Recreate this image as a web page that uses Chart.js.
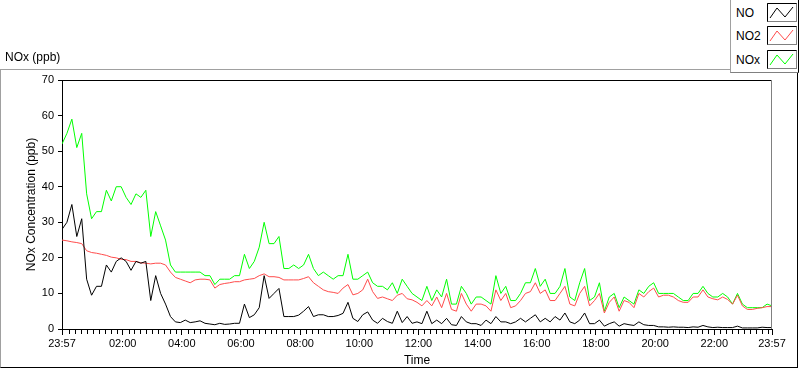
<!DOCTYPE html>
<html>
<head>
<meta charset="utf-8">
<title>NOx (ppb)</title>
<script src="https://cdn.jsdelivr.net/npm/chart.js@4.4.0/dist/chart.umd.min.js"></script>
<style>
    html, body { margin: 0; padding: 0; background: #fff; }
    body { position: relative; width: 800px; height: 369px; overflow: hidden; font-family: "Liberation Sans", Arial, sans-serif; color: #000; }
    #frame { position: absolute; left: 0; top: 69px; width: 798px; height: 299px; box-sizing: border-box;
        border-left: 1px solid #a0a0a0; border-top: 1px solid #a0a0a0; border-right: 1px solid #000; border-bottom: 1px solid #000; }
    #chart { position: absolute; left: 0; top: 0; }
    #graphTitle { position: absolute; left: 5px; top: 50px; font-size: 12px; }
    #legend { position: absolute; left: 730px; top: -1px; width: 69px; height: 74px; box-sizing: border-box; background: #fff;
        border-left: 1px solid #a0a0a0; border-top: 1px solid #a0a0a0; border-right: 1px solid #000; border-bottom: 1px solid #808080; }
    .row { position: absolute; left: 5px; width: 62px; height: 20px; font-size: 12px; }
    .row span { position: absolute; left: 0; top: 3px; }
    .row svg { position: absolute; left: 31px; top: 0; }
</style>
</head>
<body>
<div id="frame"></div>
<canvas id="chart" width="800" height="369"></canvas>
<div id="graphTitle">NOx (ppb)</div>
<div id="legend"></div>
<script>
// minutes after 23:57, one sample every 10 minutes
var SAMPLE_STEP = 10;

var seriesNames = ['NO', 'NO2', 'NOx'];
var seriesColors = ['#000000', '#ff4b4b', '#00ff00'];

var noValues = [
    28, 30, 35, 26, 31, 14, 9.5, 12, 12, 18, 16, 19,
    20, 19, 16.5, 19, 18.5, 19, 8, 15, 10, 7, 3.5, 2,
    1.8, 2.5, 1.8, 2, 2.3, 1.6, 1.4, 1.2, 1.6, 1.3, 1.4, 1.6,
    1.6, 7, 3.2, 4, 6, 15, 8.6, 10, 11.4, 3.5, 3.5, 3.5,
    3.9, 5, 6.3, 3.5, 4, 4, 3.5, 3.5, 3.8, 4.4, 7.5, 3,
    2.1, 4, 4.8, 2.5, 1.6, 3, 2.1, 1.6, 5, 1.8, 3.5, 1.6,
    2, 1.5, 5, 1.5, 2.5, 1.5, 3, 1.2, 1, 3.5, 2, 1.5,
    1.5, 1, 2.5, 1.5, 3.5, 2, 2, 1.5, 2, 3, 2, 3,
    4, 2, 3, 2, 3.5, 2.5, 4.5, 2, 1.5, 2.5, 4.5, 1.5,
    1.5, 2.5, 0.8, 1.5, 2, 0.8, 1.5, 1.2, 1, 2, 1.2, 1,
    1, 0.6, 0.6, 0.5, 0.6, 0.5, 0.5, 0.4, 0.6, 0.5, 1, 0.6,
    0.4, 0.5, 0.4, 0.4, 0.4, 0.8, 0.3, 0.3, 0.3, 0.3, 0.5, 0.4,
    0.4
];

var no2Values = [
    25, 24.8, 24.5, 24.3, 24, 22, 21.5, 21.3, 21, 20.7, 20.2, 20,
    19.6, 19.5, 19, 19, 18.6, 18.5, 18.3, 18.5, 18.5, 18, 16, 14.5,
    14, 13.5, 13, 13.8, 14, 14, 13.8, 11.5, 12.5, 12.8, 13, 13.3,
    13.3, 13.8, 14, 14.2, 15, 15.5, 14.7, 14.7, 14.5, 13.8, 13.8, 13.8,
    13.8, 14.2, 14.7, 13, 12, 11, 10.5, 10.3, 10, 11.5, 12.5, 9.6,
    10, 11, 14, 10.5, 8.6, 9, 8.5, 8, 9.5, 10, 8.5, 8.2,
    7.5, 6.5, 8, 6.5, 9, 6, 10, 5.5, 5, 10, 7, 5,
    7, 7, 6.5, 5, 11, 8, 10, 6, 6.5, 8, 10, 10.5,
    13, 10, 11, 8, 8, 10, 12, 7, 6.5, 10, 12, 6.5,
    8, 10, 4.5, 7.5, 9, 5, 8, 7.5, 6, 10, 9, 10.5,
    11.5, 9, 9.5, 9.5, 9, 8, 7.5, 7.5, 9, 9, 11, 9,
    8.5, 8.2, 9, 8.3, 7, 9.5, 6.5, 5.5, 5.5, 5.8, 6, 6.3,
    6.3
];

var noxValues = [
    52, 55, 59, 51, 55, 38, 31, 33, 33, 39, 36, 40,
    40, 37, 35, 38, 37, 39, 26, 33, 29, 25, 18, 16,
    16, 16, 16, 16, 16, 15, 15, 12.5, 14, 14, 14, 15,
    15, 21, 17, 19, 23, 30, 24, 24, 26, 17, 17, 18,
    17, 18, 21, 17, 15, 16, 15, 14, 15, 15, 21, 14,
    14, 15, 16, 13, 12, 12, 11, 13, 10, 14, 12, 10,
    9, 8, 12, 8, 11, 9, 14, 7, 7, 12, 10, 7,
    9, 9, 8, 7, 15, 10, 12, 8, 8, 10, 13, 13,
    17, 12, 14, 10, 10, 12, 17, 9, 8, 13, 17, 8,
    9, 13, 5, 9, 10, 6, 9, 8, 7, 11, 10, 12,
    13, 10, 10, 10, 10, 9, 8, 8, 10, 10, 12, 10,
    9, 9, 10, 9, 7, 10, 7, 6, 6, 6, 6, 7,
    6.5
];

// x axis: labelled ticks (minutes after 23:57)
var tickMinutes = [0, 123, 243, 363, 483, 603, 723, 843, 963, 1083, 1203, 1323, 1440];
var tickLabels = ['23:57', '02:00', '04:00', '06:00', '08:00', '10:00', '12:00', '14:00', '16:00', '18:00', '20:00', '22:00', '23:57'];
var MINOR_STEP = 12;

var fontFamily = '"Liberation Sans", Arial, sans-serif';

function toPoints(values) {
    var points = [];
    for (var i = 0; i < values.length; i++) {
        points.push({x: i * SAMPLE_STEP, y: values[i]});
    }
    return points;
}

function buildLegend() {
    var box = document.getElementById('legend');
    var tops = [3, 26, 50];
    for (var i = 0; i < seriesNames.length; i++) {
        var row = document.createElement('div');
        row.className = 'row';
        row.style.top = tops[i] + 'px';
        row.innerHTML = '<span>' + seriesNames[i] + '</span>' +
            '<svg width="30" height="19">' +
            '<rect x="0.5" y="0.5" width="29" height="18" fill="#fff" stroke="#808080"/>' +
            '<path d="M0.5 18.5V0.5H29.5" fill="none" stroke="#000"/>' +
            '<polyline points="3,15 10,5 18,14 26,4" fill="none" stroke="' + seriesColors[i] + '" stroke-width="1"/>' +
            '</svg>';
        box.appendChild(row);
    }
}

// top/right edges of the plot box and the short minor ticks on the time scale
var plotFramePlugin = {
    id: 'plotFrame',
    afterDraw: function (chart) {
        var ctx = chart.ctx;
        var area = chart.chartArea;
        var xScale = chart.scales.x;
        ctx.save();
        ctx.lineWidth = 1;
        ctx.strokeStyle = '#000';
        ctx.beginPath();
        ctx.moveTo(area.left, Math.round(area.top) + 0.5);
        ctx.lineTo(area.right, Math.round(area.top) + 0.5);
        ctx.stroke();
        ctx.strokeStyle = '#808080';
        ctx.beginPath();
        ctx.moveTo(Math.round(area.right) - 0.5, area.top);
        ctx.lineTo(Math.round(area.right) - 0.5, area.bottom);
        ctx.stroke();

        ctx.strokeStyle = '#000';
        ctx.beginPath();
        for (var m = tickMinutes[1] - MINOR_STEP; m > 6; m -= MINOR_STEP) {
            var px = Math.round(xScale.getPixelForValue(m)) + 0.5;
            ctx.moveTo(px, area.bottom + 1);
            ctx.lineTo(px, area.bottom + 5);
        }
        for (var n = tickMinutes[1] + MINOR_STEP; n < 1434; n += MINOR_STEP) {
            if ((n - tickMinutes[1]) % 120 === 0) {
                continue;
            }
            var qx = Math.round(xScale.getPixelForValue(n)) + 0.5;
            ctx.moveTo(qx, area.bottom + 1);
            ctx.lineTo(qx, area.bottom + 5);
        }
        ctx.stroke();
        ctx.restore();
    }
};

var datasets = [
    {label: seriesNames[0], data: toPoints(noValues), borderColor: seriesColors[0]},
    {label: seriesNames[1], data: toPoints(no2Values), borderColor: seriesColors[1]},
    {label: seriesNames[2], data: toPoints(noxValues), borderColor: seriesColors[2]}
];

var chart = new Chart(document.getElementById('chart').getContext('2d'), {
    type: 'line',
    data: {datasets: datasets},
    options: {
        responsive: false,
        animation: false,
        layout: {padding: {left: 0, top: 80, right: 28, bottom: 0}},
        elements: {
            point: {radius: 0},
            line: {borderWidth: 1, tension: 0, fill: false}
        },
        plugins: {
            legend: {display: false},
            tooltip: {enabled: false}
        },
        scales: {
            x: {
                type: 'linear',
                min: 0,
                max: 1440,
                afterBuildTicks: function (scale) {
                    scale.ticks = tickMinutes.map(function (v) {
                        return {value: v};
                    });
                },
                afterFit: function (scale) {
                    scale.height = 40;
                },
                grid: {drawOnChartArea: false, tickLength: 6, color: '#000'},
                border: {color: '#000'},
                ticks: {
                    autoSkip: false,
                    maxRotation: 0,
                    padding: 2,
                    color: '#000',
                    font: {family: fontFamily, size: 11},
                    callback: function (value) {
                        var i = tickMinutes.indexOf(value);
                        return i < 0 ? '' : tickLabels[i];
                    }
                },
                title: {
                    display: true,
                    text: 'Time',
                    color: '#000',
                    font: {family: fontFamily, size: 12},
                    padding: {top: 0, bottom: 1}
                }
            },
            y: {
                min: 0,
                max: 70,
                afterFit: function (scale) {
                    scale.width = 62;
                },
                grid: {drawOnChartArea: false, tickLength: 4, color: '#000'},
                border: {color: '#000'},
                ticks: {
                    stepSize: 10,
                    padding: 4,
                    color: '#000',
                    font: {family: fontFamily, size: 11}
                },
                title: {
                    display: true,
                    text: 'NOx Concentration (ppb)',
                    color: '#000',
                    font: {family: fontFamily, size: 12},
                    padding: {top: 24, bottom: 0}
                }
            }
        }
    },
    plugins: [plotFramePlugin]
});

buildLegend();
</script>
</body>
</html>
